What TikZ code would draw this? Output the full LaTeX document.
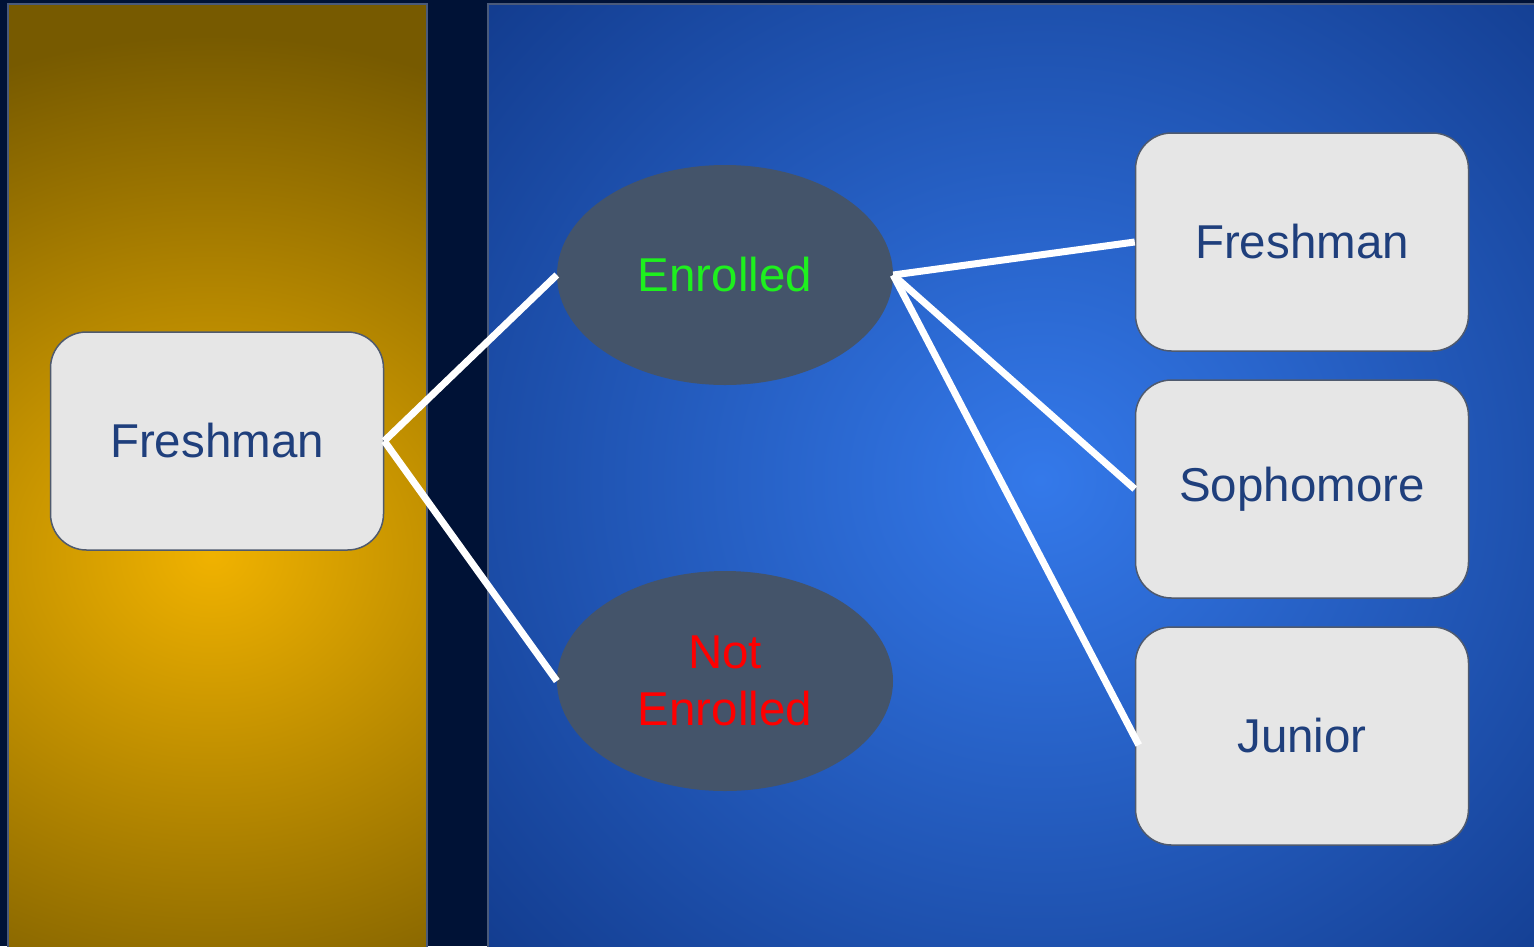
\documentclass[tikz,border=0pt]{standalone}
\usepackage{fontspec}
\setmainfont{Liberation Sans}
\usetikzlibrary{shapes.geometric}
\definecolor{navy}{HTML}{001236}
\definecolor{goldin}{HTML}{F0B200}
\definecolor{goldout}{HTML}{775A00}
\definecolor{bluein}{HTML}{3479EA}
\definecolor{blueout}{HTML}{133D90}
\definecolor{panelline}{HTML}{4A5A7A}
\definecolor{boxfill}{HTML}{E6E6E6}
\definecolor{boxline}{HTML}{4F5A6E}
\definecolor{boxtext}{HTML}{1F3F7C}
\definecolor{ellfill}{HTML}{44546A}
\definecolor{enrgreen}{HTML}{1EF01E}
\definecolor{notred}{HTML}{FF0000}
\tikzset{
  box/.style={draw=boxline, line width=1.5pt, fill=boxfill, rounded corners=36pt,
    minimum width=333pt, minimum height=218pt, inner sep=0pt, text=boxtext,
    font=\fontsize{47.5}{54}\selectfont},
  oval/.style={ellipse, fill=ellfill, minimum width=336pt, minimum height=220pt,
    inner sep=0pt, align=center, font=\fontsize{47.5}{57}\selectfont},
  link/.style={draw=white, line width=7pt},
  panel/.style={draw=panelline, line width=1.5pt}
}
\begin{document}
\begin{tikzpicture}[x=1pt,y=-1pt]
\useasboundingbox (0,0) rectangle (1534,946);
\fill[navy] (0,0) rectangle (1534,946);
% gold panel
\begin{scope}
\clip (8,4) rectangle (427,950);
\fill[goldout] (8,4) rectangle (427,950);
\shade[inner color=goldin, outer color=goldout] (212,555) ellipse (600 and 520);
\end{scope}
\draw[panel] (8,950) -- (8,4) -- (427,4) -- (427,950);
% blue panel
\begin{scope}
\clip (488,4) rectangle (1540,950);
\fill[blueout] (488,4) rectangle (1540,950);
\shade[inner color=bluein, outer color=blueout] (1040,480) ellipse (740 and 700);
\end{scope}
\draw[panel] (488,950) -- (488,4) -- (1540,4);
% nodes
\node[box] (f0) at (217,441) {Freshman};
\node[oval, text=enrgreen] (en) at (725,275) {Enrolled};
\node[oval, text=notred] (ne) at (725,681) {Not\\Enrolled};
\node[box] (f1) at (1302,242) {Freshman};
\node[box] (so) at (1302,489) {Sophomore};
\node[box] (ju) at (1302,736) {Junior};
% connectors
\draw[link] (f0.east) -- (en.west);
\draw[link] (f0.east) -- (ne.west);
\draw[link] (en.east) -- (f1.west);
\draw[link] (en.east) -- (so.west);
\draw[link] (en.east) -- ([xshift=4pt,yshift=-9pt]ju.west);
\end{tikzpicture}
\end{document}
